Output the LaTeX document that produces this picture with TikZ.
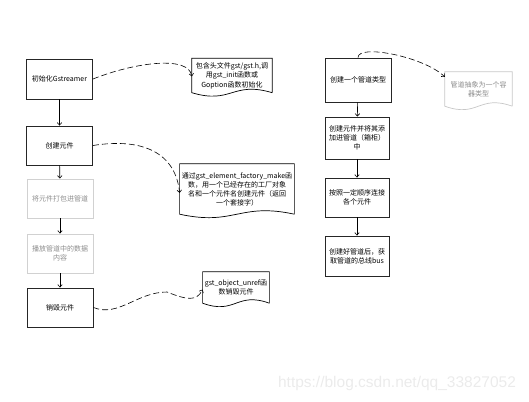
\documentclass[tikz,border=0pt]{standalone}
\usepackage{fontspec}
\setmainfont{Noto Sans CJK SC}
\newfontfamily\wmfont{Liberation Sans}
\usetikzlibrary{arrows.meta}
\newcommand{\wavedoc}[3][]{%
  \draw[#1] (#2.south east) -- (#2.north east) -- (#2.north west) -- (#2.south west)
    .. controls +(#3/2,12) and +(-#3/2,-12) .. (#2.south east);}
\begin{document}
\begin{tikzpicture}[x=1pt, y=-1pt,
  box/.style={draw=black!85, line width=0.9pt, minimum width=66pt, minimum height=40pt,
    inner sep=2pt, align=center, font=\fontsize{7}{9}\selectfont},
  graybox/.style={box, draw=black!18, text=black!45},
  note/.style={inner sep=2pt, align=center, font=\fontsize{7}{9}\selectfont},
  flow/.style={-{Straight Barb[length=2.5pt,width=4.5pt]}, line width=0.6pt},
  link/.style={flow, dash pattern=on 6pt off 3pt}]
\useasboundingbox (0,0) rectangle (529,401);
% left column
\node[box] (lbox0) at (59.5,79) {初始化Gstreamer};
\node[box, minimum height=39pt] (lbox1) at (59.5,145.5) {创建元件};
\node[graybox, minimum height=39pt] (lbox2) at (60,198.5) {将元件打包进管道};
\node[graybox, minimum height=39pt] (lbox3) at (60,253.5) {播放管道中的数据\\内容};
\node[box, minimum height=39pt] (lbox4) at (60,307.5) {销毁元件};
\draw[flow](lbox0) -- (lbox1);
\draw[flow](lbox1) -- (lbox2);
\draw[flow](lbox2) -- (lbox3);
\draw[flow](lbox3) -- (lbox4);
% notes
\node[note, font=\fontsize{7}{9.5}\selectfont, minimum width=80pt, minimum height=34pt] (note0) at (232,75.5)
  {包含头文件gst/gst.h,调\\用gst\_init函数或\\Goption函数初始化};
\wavedoc[line width=0.7pt]{note0}{80}
\node[note, minimum width=110pt, minimum height=50pt] (note1) at (237,189)
  {通过gst\_element\_factory\_make函\\数，用一个已经存在的工厂对象\\名和一个元件名创建元件（返回\\一个套接字）};
\wavedoc[line width=0.7pt]{note1}{110}
\node[note, minimum width=66pt, minimum height=31pt] (note2) at (236,287.5)
  {gst\_object\_unref函\\数销毁元件};
\wavedoc[line width=0.7pt]{note2}{66}
\draw[link](lbox0.east) .. controls +(43,-17) and +(-3,-21) .. ([yshift=-1pt]note0.west);
\draw[link](lbox1.east) .. controls +(50,-8) and +(-4,-40) .. ([yshift=-4pt]note1.west);
\coordinate (bend2) at (167,292);
\draw[link](lbox4.east) .. controls +(25,10) and +(-30,0) .. (bend2)
  .. controls +(20,8) and +(-6,12) .. ([yshift=-2pt]note2.west);
% right column
\node[box, minimum height=44pt] (rbox0) at (358,80) {创建一个管道类型};
\node[box, minimum width=64pt, minimum height=42pt] (rbox1) at (357,138) {创建元件并将其添\\加进管道（箱柜）\\中};
\node[box, minimum width=64pt, minimum height=39pt] (rbox2) at (357,197.5) {按照一定顺序连接\\各个元件};
\node[box, minimum width=64pt, minimum height=40pt] (rbox3) at (357,256) {创建好管道后，获\\取管道的总线bus};
\draw[flow](rbox0) -- (rbox1);
\draw[flow](rbox1) -- (rbox2);
\draw[flow](rbox2) -- (rbox3);
\node[note, text=black!45, minimum width=67pt, minimum height=34pt] (note3) at (478.5,89)
  {管道抽象为一个容\\器类型};
\wavedoc[draw=black!22, line width=0.7pt]{note3}{67}
\draw[link](rbox0.north) .. controls +(0,-14) and +(-20,-20) .. ([yshift=12pt]note3.west);
% watermark
\node[text=black!8, font=\wmfont\fontsize{15.5}{18}\selectfont, inner sep=0pt] (mark) at (397,383)
  {https://blog.csdn.net/qq\_33827052};
\end{tikzpicture}
\end{document}
